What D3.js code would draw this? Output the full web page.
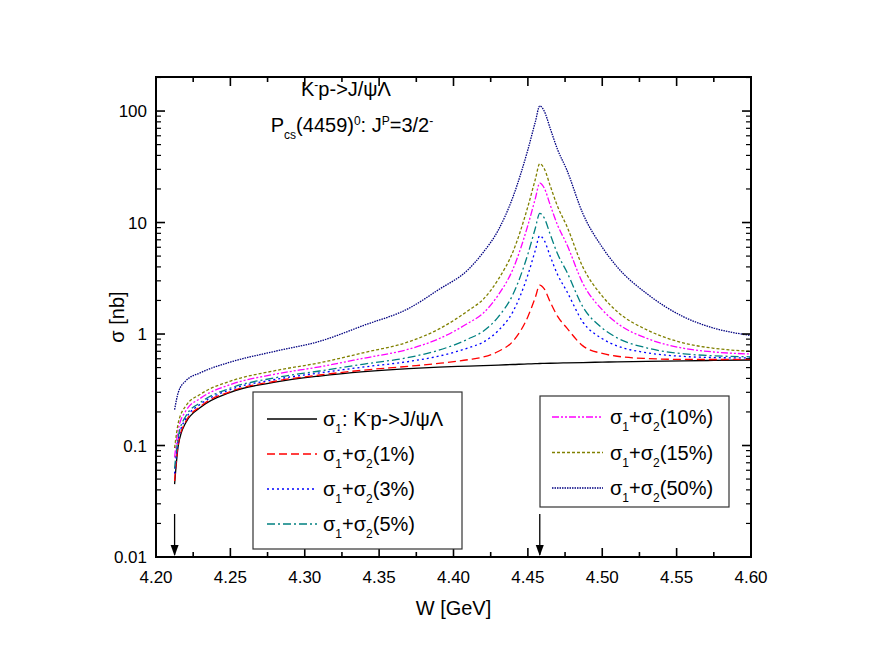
<!DOCTYPE html>
<html><head><meta charset="utf-8">
<script src="https://cdn.jsdelivr.net/npm/d3@7"></script>
<style>body{margin:0;background:#fff}text{font-family:"Liberation Sans",Arial,sans-serif}</style>
</head><body><svg id="chart" width="872" height="668"></svg>
<script>
const W = [4.2125,4.215,4.22,4.23,4.25,4.28,4.31,4.34,4.37,4.39,4.41,4.42,4.43,4.44,4.45,4.455,4.458,4.461,4.465,4.47,4.476,4.487,4.50,4.51,4.53,4.555,4.575,4.60];
const sig1  = [.045,.10,.16,.22,.30,.37,.42,.46,.49,.505,.515,.52,.527,.533,.54,.542,.544,.545,.547,.549,.551,.555,.56,.563,.568,.575,.58,.585];
const sig1p = [.048,.104,.164,.225,.305,.377,.429,.475,.514,.545,.589,.622,.697,.863,1.43,2.13,2.75,2.54,1.94,1.44,1.14,.783,.669,.632,.603,.592,.591,.593];
const sig3p = [.056,.113,.174,.235,.317,.391,.448,.507,.567,.633,.752,.846,1.07,1.59,3.39,5.63,7.62,6.91,4.99,3.40,2.44,1.28,.908,.783,.679,.629,.615,.61];
const sig5p = [.062,.121,.183,.244,.327,.405,.466,.538,.617,.715,.904,1.06,1.42,2.27,5.21,8.89,12.1,11.0,7.84,5.22,3.65,1.75,1.13,.924,.75,.664,.638,.625];
const sig10p = [.078,.14,.204,.266,.352,.436,.508,.608,.732,.905,1.255,1.54,2.23,3.83,9.44,16.4,22.6,20.4,14.4,9.45,6.45,2.84,1.65,1.25,.914,.744,.69,.662];
const sig15p = [.095,.16,.226,.289,.378,.469,.552,.682,.853,1.105,1.625,2.05,3.08,5.48,13.9,24.4,33.7,30.4,21.4,13.9,9.4,3.98,2.19,1.59,1.09,.829,.745,.70];
const sig50p = [.21,.30,.38,.45,.56,.70,.86,1.2,1.7,2.5,3.8,5.4,8.5,17,45,80,111,100,70,45,30,12,6.0,4.0,2.3,1.42,1.13,.97];
const xTicks = [4.20,4.25,4.30,4.35,4.40,4.45,4.50,4.55,4.60];
const yTicks = [0.01,0.1,1,10,100];
const arrowsAt = [4.2125,4.458];

const series = [
  {v:sig1, c:"#000000", dash:null, lab:"1"},
  {v:sig1p, c:"#ff0000", dash:"8,4", lab:"1%"},
  {v:sig3p, c:"#0000ff", dash:"2,3", lab:"3%"},
  {v:sig5p, c:"#008080", dash:"8,3,2,3", lab:"5%"},
  {v:sig10p, c:"#ff00ff", dash:"7,2,2,2,2,2", lab:"10%"},
  {v:sig15p, c:"#808000", dash:"3,2", lab:"15%"},
  {v:sig50p, c:"#000080", dash:"1.5,1", lab:"50%"}
];

const L=156, R=751, T=77, B=557;
const svg = d3.select("#chart");
const x = d3.scaleLinear().domain([4.2,4.6]).range([L,R]);
const y = d3.scaleLog().domain([0.01,202]).range([B,T]);

svg.append("clipPath").attr("id","clip").append("rect").attr("x",L).attr("y",T).attr("width",R-L).attr("height",B-T);

const line = d3.line().x((d,i)=>x(W[i])).y(d=>y(d)).curve(d3.curveMonotoneX);
series.forEach(s=>{
  svg.append("path").datum(s.v).attr("d",line).attr("clip-path","url(#clip)")
    .attr("fill","none").attr("stroke",s.c).attr("stroke-width",1.3)
    .attr("stroke-dasharray",s.dash);
});

// ticks (inward, all four sides)
const tk = svg.append("g");
function tick(x1,y1,x2,y2,w){
  tk.append("line").attr("x1",x1).attr("y1",y1).attr("x2",x2).attr("y2",y2)
    .attr("stroke","#000").attr("stroke-width",w);
}
d3.range(0,17).map(i=>4.2+i*0.025).forEach((v,i)=>{
  const len = i%2===0 ? 9 : 5;
  tick(x(v),B,x(v),B-len,1.6);
  tick(x(v),T,x(v),T+len,1.6);
});
yTicks.forEach(v=>{
  tick(L,y(v),L+9,y(v),1.6);
  tick(R,y(v),R-9,y(v),1.6);
  for(let k=2;k<10;k++){
    const m=v*k; if(m>202) break;
    tick(L,y(m),L+5,y(m),1.2);
    tick(R,y(m),R-5,y(m),1.2);
  }
});
svg.append("rect").attr("x",L).attr("y",T).attr("width",R-L).attr("height",B-T)
  .attr("fill","none").attr("stroke","#000").attr("stroke-width",2);

svg.selectAll(".xl").data(xTicks).enter().append("text")
  .attr("x",d=>x(d)).attr("y",B+26).attr("text-anchor","middle").attr("font-size",17)
  .text(d=>d.toFixed(2));
svg.selectAll(".yl").data(yTicks).enter().append("text")
  .attr("x",L-9).attr("y",d=>y(d)+6).attr("text-anchor","end").attr("font-size",17)
  .text(d=>d);

svg.append("text").attr("x",(L+R)/2).attr("y",615).attr("text-anchor","middle").attr("font-size",20).text("W [GeV]");
svg.append("text").attr("transform",`translate(124,${(T+B)/2}) rotate(-90)`).attr("text-anchor","middle").attr("font-size",20).text("σ [nb]");

arrowsAt.forEach(a=>{
  svg.append("line").attr("x1",x(a)).attr("x2",x(a)).attr("y1",514).attr("y2",B-2).attr("stroke","#000").attr("stroke-width",1.3);
  svg.append("path").attr("d",`M${x(a)-4},${B-12}L${x(a)+4},${B-12}L${x(a)},${B-1}Z`).attr("fill","#000");
});

function rich(g, px, py, parts, size, anchor){
  const t=g.append("text").attr("x",px).attr("y",py).attr("font-size",size).attr("text-anchor",anchor||"start");
  parts.forEach(([s,m])=>{
    const sp=t.append("tspan").text(s);
    if(m===1) sp.attr("baseline-shift","super").attr("font-size",size*0.6);
    if(m===-1) sp.attr("baseline-shift","sub").attr("font-size",size*0.6);
  });
  return t;
}
const kText=[["K",0],["-",1],["p->J/ψΛ",0]];
rich(svg,346,96,kText,20,"middle");
rich(svg,352,132,[["P",0],["cs",-1],["(4459)",0],["0",1],[": J",0],["P",1],["=3/2",0],["-",1]],20,"middle");

const lg=svg.append("g");
lg.append("rect").attr("x",253).attr("y",392).attr("width",209).attr("height",157).attr("fill","#fff").attr("stroke","#333").attr("stroke-width",1.2);
lg.append("rect").attr("x",540).attr("y",396).attr("width",189).attr("height",111).attr("fill","#fff").attr("stroke","#333").attr("stroke-width",1.2);
const sumParts=l=>[["σ",0],["1",-1],["+σ",0],["2",-1],["("+l+")",0]];
series.forEach((s,i)=>{
  let lx1,lx2,tx,ty;
  if(i<4){lx1=267;lx2=317;tx=323;ty=419+i*35;}
  else{lx1=552;lx2=603;tx=610;ty=417+(i-4)*35.5;}
  lg.append("line").attr("x1",lx1).attr("x2",lx2).attr("y1",ty).attr("y2",ty)
    .attr("stroke",s.c).attr("stroke-width",1.3).attr("stroke-dasharray",s.dash);
  const parts = i===0 ? [["σ",0],["1",-1],[": ",0]].concat(kText) : sumParts(s.lab);
  rich(lg,tx,ty+7,parts,20);
});
</script></body></html>
